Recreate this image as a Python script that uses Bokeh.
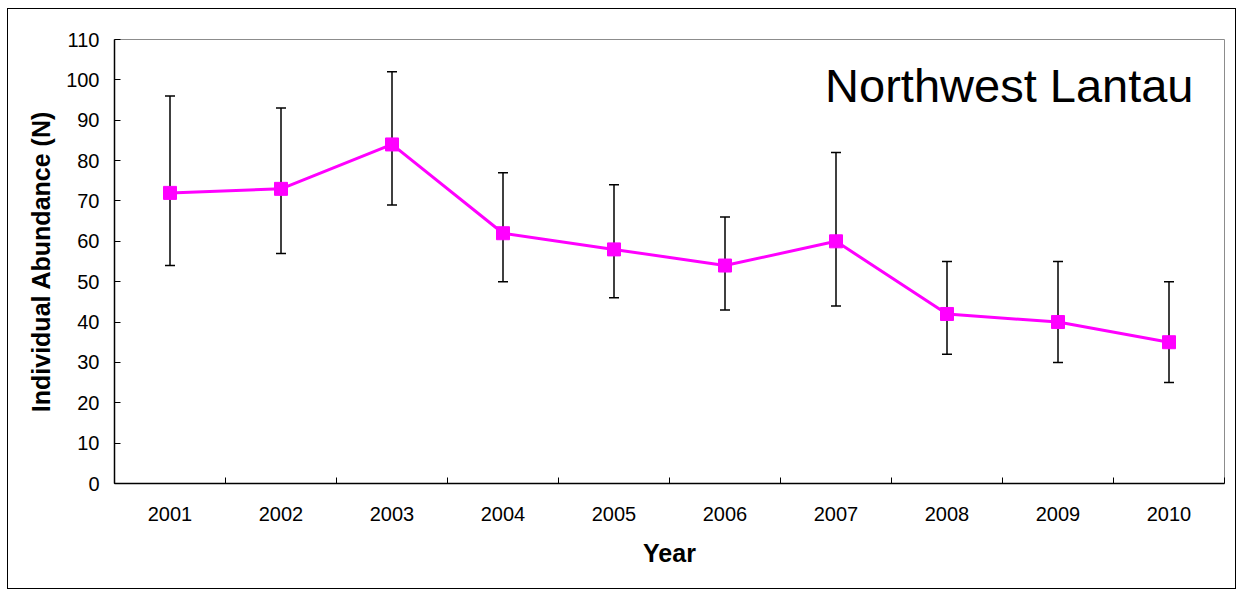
from bokeh.plotting import figure
from bokeh.models import ColumnDataSource, Whisker, TeeHead, FixedTicker, Label, Range1d
from bokeh.embed import file_html
from bokeh.resources import INLINE

years = [2001, 2002, 2003, 2004, 2005, 2006, 2007, 2008, 2009, 2010]
abundance = [72, 73, 84, 62, 58, 54, 60, 42, 40, 35]
upper = [96, 93, 102, 77, 74, 66, 82, 55, 55, 50]
lower = [54, 57, 69, 50, 46, 43, 44, 32, 30, 25]
y_ticks = [0, 10, 20, 30, 40, 50, 60, 70, 80, 90, 100, 110]

FONT = "Liberation Sans"

src = ColumnDataSource(dict(year=years, n=abundance, up=upper, lo=lower))

p = figure(width=1229, height=581, output_backend="svg", toolbar_location=None,
           x_range=Range1d(years[0] - 0.5, years[-1] + 0.5),
           y_range=Range1d(y_ticks[0], y_ticks[-1]),
           min_border_left=106, min_border_right=13, min_border_top=30, min_border_bottom=107)
p.styles = {"border": "1px solid black", "margin-left": "7px", "margin-top": "8px"}
p.grid.visible = False
p.outline_line_color = "#8c8c8c"
p.outline_line_width = 1

# error bars
w = Whisker(base="year", upper="up", lower="lo", source=src,
            line_color="black", line_width=1.5,
            upper_head=TeeHead(size=10, line_color="black", line_width=1.5),
            lower_head=TeeHead(size=10, line_color="black", line_width=1.5))
p.add_layout(w)

p.line("year", "n", source=src, line_color="#FF00FF", line_width=3)
p.scatter("year", "n", source=src, marker="square", size=13,
          fill_color="#FF00FF", line_color="#FF00FF")

# x axis
xa = p.xaxis[0]
xa.ticker = FixedTicker(ticks=years, minor_ticks=[y - 0.5 for y in years] + [years[-1] + 0.5])
xa.major_tick_in = 0
xa.major_tick_out = 0
xa.minor_tick_in = 6
xa.minor_tick_out = 0
xa.minor_tick_line_color = "black"
xa.axis_line_color = "black"
xa.axis_line_width = 1.5
xa.major_label_text_font = FONT
xa.major_label_text_font_size = "20px"
xa.major_label_text_color = "black"
xa.major_label_standoff = 23
xa.axis_label = "Year"
xa.axis_label_text_font = FONT
xa.axis_label_text_font_size = "25px"
xa.axis_label_text_font_style = "bold"
xa.axis_label_text_color = "black"
xa.axis_label_standoff = 15

ya = p.yaxis[0]
ya.ticker = FixedTicker(ticks=y_ticks)
ya.minor_tick_line_color = None
ya.major_tick_in = 6
ya.major_tick_out = 0
ya.major_tick_line_color = "black"
ya.axis_line_color = "black"
ya.axis_line_width = 1.5
ya.major_label_text_font = FONT
ya.major_label_text_font_size = "20px"
ya.major_label_text_color = "black"
ya.major_label_standoff = 15
ya.axis_label = "Individual Abundance (N)"
ya.axis_label_text_font = FONT
ya.axis_label_text_font_size = "25px"
ya.axis_label_text_font_style = "bold"
ya.axis_label_text_color = "black"
ya.axis_label_standoff = 8

title = Label(x=years[-1] + 0.5, y=98.6, x_offset=-31, text="Northwest Lantau",
              text_font=FONT, text_font_size="47px", text_align="right",
              text_baseline="alphabetic", text_color="black")
p.add_layout(title)

open("out.html", "w").write(file_html(p, INLINE))
